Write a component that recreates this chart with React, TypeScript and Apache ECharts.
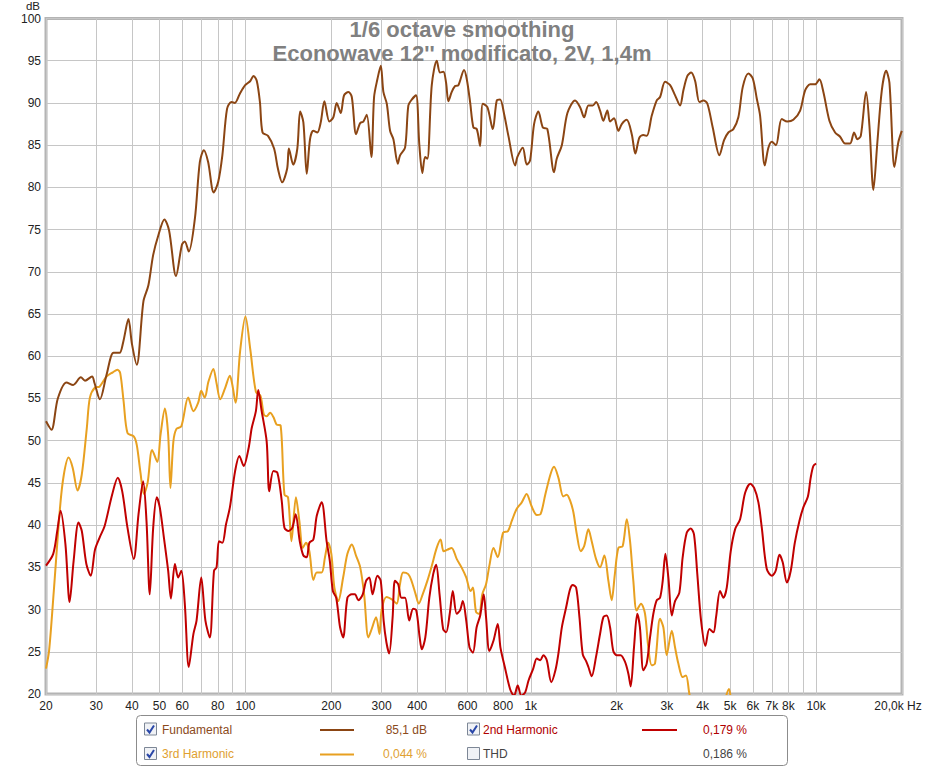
import React, { useEffect, useRef } from "react";
import * as echarts from "echarts";

// [frequency Hz, level dB]
const fundamental: [number, number][] = [
  [20, 52.3], [20.9, 51.3], [22.0, 55.0], [23.6, 56.9], [24.9, 56.6], [26.5, 57.5], [27.4, 57.1],
  [29.0, 57.6], [29.6, 56.8], [30.9, 54.9], [32.6, 57.8], [34.5, 60.4], [36.2, 60.4], [37.3, 61.7],
  [38.9, 64.4], [40.0, 61.5], [41.6, 59.0], [43.9, 66.5], [45.7, 68.4], [47.5, 72.0], [49.5, 74.3],
  [52.0, 76.2], [54.0, 74.9], [57.1, 69.5], [59.9, 73.2], [61.3, 73.6], [63.3, 72.4], [66.5, 76.3],
  [69.2, 83.0], [71.5, 84.4], [74.0, 83.0], [77.4, 79.4], [80.2, 80.6], [83.0, 83.8], [86.2, 89.3],
  [89.3, 90.1], [91.8, 90.0], [95.6, 91.1], [99.8, 92.1], [104, 92.6], [106.7, 93.2], [109.6, 92.6],
  [112.4, 90.1], [114.8, 86.5], [120, 86.1], [126, 84.6], [130, 82.2], [134.5, 80.6], [140, 82.2],
  [142, 84.6], [147, 82.7], [152, 84.6], [155.5, 89.0], [159.6, 87.7], [164, 81.6], [168.4, 85.7],
  [172.9, 86.7], [178.6, 86.5], [183.6, 87.7], [189.1, 90.2], [196.8, 87.8], [203.2, 88.3],
  [208.9, 90.0], [215.8, 88.8], [221.6, 90.9], [229.5, 91.3], [235.9, 90.7], [244.2, 86.3],
  [252.2, 87.6], [259, 87.8], [266.2, 88.6], [276.3, 83.6], [282.4, 90.7], [290, 92.8], [298.1, 94.4],
  [304.4, 91.3], [312.9, 89.9], [321.3, 86.7], [330, 85.7], [341.9, 82.8], [348.3, 83.8],
  [362.6, 84.7], [372.4, 89.7], [382.7, 90.4], [396.2, 90.9], [406.9, 85.0], [416.9, 81.7],
  [426.1, 83.6], [434.1, 83.4], [449.8, 92.1], [468.3, 95.0], [480.9, 93.6], [494, 93.7],
  [504.9, 92.4], [514.3, 90.2], [528.5, 91.3], [542.9, 92.0], [557.5, 92.1], [583.8, 93.9],
  [596.7, 92.8], [612.9, 90.1], [629.4, 87.1], [646.9, 86.9], [664.3, 84.9], [678.9, 89.9],
  [704.6, 89.5], [736, 86.9], [760.1, 90.3], [780.7, 90.4], [806.3, 88.7], [834.8, 86.1],
  [881.2, 82.6], [897.6, 83.6], [937.5, 84.7], [968.4, 82.7], [994.4, 83.2], [1027, 87.5],
  [1063, 89.0], [1102, 87.1], [1143, 86.9], [1207, 81.8], [1233, 83.4], [1285, 85.0], [1344, 88.8],
  [1430, 90.3], [1489, 89.5], [1538, 88.3], [1592, 89.7], [1649, 89.7], [1694, 90.1], [1749, 89.1],
  [1796, 87.9], [1855, 89.1], [1896, 87.8], [1958, 88.2], [2028, 86.7], [2084, 87.5], [2169, 88.0],
  [2259, 86.3], [2325, 84.0], [2402, 85.9], [2480, 86.2], [2550, 86.1], [2655, 88.5], [2764, 90.3],
  [2839, 90.7], [2956, 92.5], [3079, 92.1], [3205, 90.9], [3336, 89.7], [3427, 91.5], [3539, 93.2],
  [3648, 93.6], [3767, 92.6], [3900, 90.1], [4028, 90.3], [4159, 89.9], [4342, 87.1], [4582, 83.8],
  [4758, 85.6], [4926, 86.5], [5129, 86.9], [5340, 88.3], [5534, 91.9], [5789, 93.5], [5999, 92.9],
  [6197, 90.5], [6363, 88.5], [6609, 82.6], [6804, 84.7], [6993, 85.4], [7232, 85.0], [7576, 88.1],
  [7926, 87.8], [8320, 88.0], [8791, 89.1], [9152, 91.5], [9530, 92.2], [9922, 92.2], [10268, 92.8],
  [10604, 91.3], [11132, 87.9], [11657, 86.5], [12137, 86.0], [12635, 85.2], [13156, 85.2],
  [13587, 86.5], [13955, 85.7], [14343, 86.1], [14971, 91.3], [15376, 87.3], [15880, 79.7],
  [16400, 85.4], [16993, 91.5], [17594, 93.8], [18070, 92.4], [18814, 82.4], [19430, 85.4],
  [19970, 86.7],
];

const secondHarmonic: [number, number][] = [
  [20, 35.2], [21.2, 36.6], [21.9, 39.3], [22.5, 41.7], [23.4, 37.7], [24.2, 30.9], [25, 35.8],
  [26, 40.3], [26.7, 39.3], [27.7, 35.4], [28.7, 34.0], [29.7, 37.1], [30.8, 38.5], [32.1, 39.9],
  [34.1, 43.6], [35.7, 45.6], [37, 44.0], [38.6, 39.7], [40.6, 36.0], [42.2, 41.3], [43.8, 45.2],
  [45, 40.5], [46.2, 31.8], [47.5, 39.7], [48.9, 43.3], [50.1, 42.1], [51.8, 38.5], [53.6, 34.6],
  [54.8, 31.3], [56.6, 35.4], [58.1, 33.8], [59.6, 34.6], [61.3, 30.7], [63.3, 23.2], [65.7, 27.1],
  [67.4, 28.7], [70, 33.8], [72.4, 28.7], [75, 26.7], [77.6, 34.6], [79.2, 35.0], [80.8, 38.1],
  [83, 37.9], [85.5, 40.1], [88.2, 42.1], [92, 46.4], [95.2, 48.2], [98.6, 47.0], [102.7, 49.2],
  [105.2, 51.5], [108.8, 53.5], [110.9, 56.0], [114, 53.5], [118.7, 49.9], [121.2, 44.0],
  [125.3, 46.4], [129.4, 46.2], [134, 42.9], [137, 39.7], [141.6, 39.3], [146, 39.7], [150, 41.3],
  [155, 38.1], [159.6, 36.4], [164, 36.2], [167.5, 37.9], [173, 38.3], [177.8, 41.1], [185, 42.7],
  [192.5, 38.1], [197.5, 35.8], [202.5, 32.2], [208, 31.4], [214.6, 27.9], [220, 26.7],
  [227.7, 31.4], [236, 31.8], [242, 31.8], [248.7, 31.1], [257.7, 31.8], [264.7, 33.4],
  [271.7, 33.8], [279, 31.8], [290, 34.0], [298, 33.4], [305, 28.7], [312, 26.1], [319, 24.8],
  [328, 29.1], [334, 33.4], [343, 33.0], [352, 31.4], [362.5, 31.4], [375, 28.7], [387, 30.1],
  [397, 29.9], [408, 26.7], [415, 25.3], [427, 26.7], [441, 31.4], [455, 34.2], [466, 35.3],
  [479, 31.8], [493, 27.7], [505, 27.3], [520, 29.5], [533, 32.2], [550, 29.5], [565, 29.9],
  [578, 31.0], [594, 28.7], [610, 25.5], [627, 24.9], [646, 27.9], [665, 29.3], [684, 31.8],
  [697, 29.1], [716, 25.1], [740, 26.3], [766, 28.3], [783, 25.5], [811, 23.2], [846, 20.6],
  [874, 19.8], [900, 21.0], [927, 19.8], [956, 20.2], [982, 21.6], [1020, 23.0], [1050, 24.2],
  [1080, 24.0], [1107, 24.6], [1138, 24.0], [1180, 21.4], [1220, 22.8], [1250, 24.8], [1285, 27.9],
  [1331, 30.3], [1373, 32.4], [1403, 32.9], [1442, 32.6], [1481, 29.1], [1521, 24.7], [1563, 23.9],
  [1592, 23.2], [1635, 22.1], [1693, 24.4], [1749, 27.1], [1797, 29.1], [1846, 29.3], [1896, 27.9],
  [1946, 25.1], [1999, 24.6], [2064, 24.6], [2140, 23.8], [2198, 22.4], [2240, 20.9], [2300, 25.5],
  [2362, 29.5], [2413, 27.9], [2480, 22.8], [2548, 23.6], [2618, 26.7], [2689, 29.5], [2762, 31.1],
  [2838, 31.4], [2900, 33.4], [2963, 36.6], [3035, 33.8], [3120, 29.3], [3204, 31.0], [3317, 32.0],
  [3407, 36.2], [3520, 39.1], [3636, 39.6], [3733, 38.9], [3834, 34.2], [3952, 28.7], [4092, 25.7],
  [4226, 27.7], [4367, 27.3], [4460, 29.1], [4607, 32.2], [4732, 31.4], [4862, 32.6], [5020, 36.9],
  [5200, 39.5], [5415, 40.7], [5637, 43.8], [5880, 44.9], [6065, 44.4], [6277, 42.7], [6451, 39.7],
  [6716, 34.8], [7000, 34.0], [7216, 34.6], [7440, 36.5], [7637, 35.6], [7900, 33.2], [8150, 34.6],
  [8420, 37.9], [8740, 40.5], [9020, 42.1], [9360, 43.4], [9570, 45.6], [9780, 47.0], [10000, 47.3],
];

const thirdHarmonic: [number, number][] = [
  [20, 23.0], [20.5, 25.1], [21.3, 32.2], [22.4, 42.1], [23.1, 46.0], [24.0, 48.0], [24.8, 46.8],
  [25.8, 44.1], [26.7, 46.0], [27.8, 51.5], [28.5, 55.1], [29.7, 56.3], [30.8, 56.4], [32.6, 57.6],
  [34.3, 58.1], [35.6, 58.4], [36.4, 58.0], [37.4, 54.7], [38.6, 50.9], [40.6, 50.5], [41.6, 49.5],
  [42.8, 46.4], [44.1, 43.7], [45.4, 45.0], [47.1, 48.9], [49.1, 47.5], [50.4, 50.7], [52.2, 53.8],
  [53.6, 50.7], [54.6, 44.4], [55.9, 49.9], [57.3, 51.4], [59.6, 51.7], [63.0, 55.1], [65.7, 53.5],
  [68.3, 54.5], [70, 55.9], [72, 55.1], [74.2, 57.0], [77.2, 58.5], [79.2, 56.8], [81.6, 54.9],
  [84.8, 56.2], [88.2, 57.7], [90, 56.6], [92.3, 54.5], [95.8, 60.6], [100, 64.7], [104, 60.8],
  [108.8, 55.8], [112.9, 55.3], [116, 53.1], [118.7, 52.9], [122, 53.3], [125.3, 52.8],
  [128.7, 51.9], [132.8, 51.8], [137, 43.6], [141, 43.3], [145, 38.1], [150.3, 43.3], [154.5, 40.5],
  [158.8, 37.3], [163, 37.9], [167.5, 36.9], [173, 33.5], [177.8, 34.4], [185, 34.4], [190, 36.2],
  [195, 37.9], [200, 36.6], [205, 32.6], [211.5, 31.0], [220, 33.8], [227.7, 36.6], [236, 37.7],
  [244, 36.4], [252.5, 35.0], [260.6, 31.8], [269.6, 26.7], [277, 27.7], [287, 29.1], [295, 27.1],
  [300, 29.9], [312, 31.5], [326, 31.2], [339, 30.7], [348, 33.0], [357, 34.4], [372, 34.2],
  [382, 33.4], [395, 31.8], [405, 30.7], [418, 31.8], [434, 33.4], [450, 35.2], [468, 37.3],
  [483, 38.3], [495, 36.9], [511, 37.1], [528, 37.3], [550, 36.0], [572, 35.0], [594, 33.8],
  [615, 32.2], [627, 32.6], [643, 29.7], [660, 29.5], [676, 31.8], [697, 33.0], [716, 35.2],
  [740, 37.3], [766, 36.2], [800, 39.1], [832, 39.3], [858, 40.5], [892, 41.9], [930, 42.7],
  [967, 43.7], [1005, 42.3], [1050, 41.2], [1082, 41.3], [1124, 43.6], [1172, 46.0], [1206, 46.9],
  [1250, 45.6], [1300, 43.4], [1337, 43.6], [1374, 42.9], [1411, 41.5], [1450, 38.9], [1497, 36.9],
  [1538, 37.5], [1592, 39.5], [1635, 38.1], [1693, 36.0], [1749, 35.0], [1811, 36.4], [1871, 33.4],
  [1921, 31.1], [1971, 34.2], [2027, 37.3], [2099, 37.5], [2170, 40.7], [2228, 38.1], [2288, 33.4],
  [2350, 29.9], [2434, 30.7], [2514, 29.5], [2582, 25.5], [2653, 23.4], [2725, 23.6], [2838, 28.9],
  [2915, 27.9], [2995, 24.6], [3120, 27.5], [3204, 25.5], [3290, 23.6], [3407, 22.0], [3500, 22.2],
  [3597, 20.0], [3750, 17.5], [4200, 16.0], [4700, 18.5], [4950, 20.6], [5050, 19.0], [5300, 17.0],
];

const gridHz = [
  20, 30, 40, 50, 60, 70, 80, 90, 100, 200, 300, 400, 500, 600, 700, 800, 900,
  1000, 2000, 3000, 4000, 5000, 6000, 7000, 8000, 9000, 10000, 20000,
];
const labelHz = [
  20, 30, 40, 50, 60, 80, 100, 200, 300, 400, 600, 800, 1000, 2000, 3000, 4000, 5000, 6000, 7000,
  8000, 10000, 20000,
];
const labelText = [
  "20", "30", "40", "50", "60", "80", "100", "200", "300", "400", "600", "800", "1k", "2k", "3k",
  "4k", "5k", "6k", "7k", "8k", "10k", "20,0k Hz",
];

const titleLines = ["1/6 octave smoothing", "Econowave 12'' modificato, 2V, 1,4m"];

const legendRows = [
  { name: "Fundamental", value: "85,1 dB", color: "#8b4513", text: "#8b4a1c", checked: true, line: true },
  { name: "2nd Harmonic", value: "0,179 %", color: "#c00000", text: "#b00000", checked: true, line: true },
  { name: "3rd Harmonic", value: "0,044 %", color: "#e8a020", text: "#e0a030", checked: true, line: true },
  { name: "THD", value: "0,186 %", color: "#444444", text: "#444444", checked: false, line: false },
];

const FONT = "'Liberation Sans', Arial, sans-serif";

function toLog(d: [number, number][]) {
  return d.map(([f, v]) => [Math.log10(f), v]);
}

export default function App() {
  const ref = useRef<HTMLDivElement>(null);

  useEffect(() => {
    if (!ref.current) return;
    const chart = echarts.init(ref.current, undefined, { renderer: "svg" });

    const graphics: any[] = [];
    const titleY = [29.5, 53];
    titleLines.forEach((t, i) => {
      graphics.push({
        type: "text",
        x: 462,
        y: titleY[i],
        z: 5,
        style: {
          text: t,
          font: `bold 22px ${FONT}`,
          lineHeight: 22,
          fill: "#808080",
          textAlign: "center",
          textVerticalAlign: "middle",
        },
      });
    });

    // legend box
    graphics.push({
      type: "rect",
      shape: { x: 136.5, y: 715.5, width: 651, height: 50, r: 4 },
      style: { fill: "#ffffff", stroke: "#8c8c8c", lineWidth: 1 },
    });
    const cols = [
      { cb: 144, text: 162, lx1: 320, lx2: 354, val: 427 },
      { cb: 467, text: 483, lx1: 642, lx2: 677, val: 747 },
    ];
    const rowsY = [729.5, 754];
    const placement = [
      [0, 0],
      [1, 0],
      [0, 1],
      [1, 1],
    ];
    legendRows.forEach((row, i) => {
      const c = cols[placement[i][0]];
      const y = rowsY[placement[i][1]];
      graphics.push({
        type: "rect",
        shape: { x: c.cb + 0.5, y: y - 6.5, width: 12, height: 12 },
        style: { fill: "#f0f2f6", stroke: "#7d8796", lineWidth: 1 },
      });
      if (row.checked) {
        graphics.push({
          type: "polyline",
          shape: { points: [[c.cb + 3, y], [c.cb + 5.5, y + 3], [c.cb + 10, y - 4]] },
          style: { stroke: "#2a47a8", lineWidth: 2, fill: null },
        });
      }
      graphics.push({
        type: "text",
        x: c.text,
        y,
        style: {
          text: row.name,
          font: `12px ${FONT}`,
          fill: row.text,
          textAlign: "left",
          textVerticalAlign: "middle",
        },
      });
      if (row.line) {
        graphics.push({
          type: "line",
          shape: { x1: c.lx1, y1: y + 0.5, x2: c.lx2, y2: y + 0.5 },
          style: { stroke: row.color, lineWidth: 2 },
        });
      }
      graphics.push({
        type: "text",
        x: c.val,
        y,
        style: {
          text: row.value,
          font: `12px ${FONT}`,
          fill: row.text,
          textAlign: "right",
          textVerticalAlign: "middle",
        },
      });
    });

    const findLabel = (v: number) => {
      for (let i = 0; i < labelHz.length; i++) {
        if (Math.abs(Math.log10(labelHz[i]) - v) < 1e-6) {
          return i === labelHz.length - 1 ? `{e|${labelText[i]}}` : labelText[i];
        }
      }
      return "";
    };

    const lineSeries = (name: string, data: [number, number][], color: string, z: number) => ({
      name,
      type: "line",
      data: toLog(data),
      showSymbol: false,
      symbol: "none",
      smooth: 0.3,
      z,
      clip: true,
      lineStyle: { color, width: 2 },
      itemStyle: { color },
    });

    chart.setOption({
      animation: false,
      backgroundColor: "#ffffff",
      textStyle: { fontFamily: FONT },
      grid: {
        left: 46,
        top: 16,
        right: 23,
        bottom: 74,
        show: true,
        borderColor: "#b4b4b4",
        borderWidth: 3,
        backgroundColor: "#ffffff",
      },
      xAxis: {
        type: "value",
        min: Math.log10(20),
        max: Math.log10(20000),
        axisLine: { show: false },
        axisTick: { show: false, customValues: gridHz.map((f) => Math.log10(f)) },
        splitLine: { show: true, lineStyle: { color: "#c6c6c6", width: 1 } },
        axisLabel: {
          customValues: labelHz.map((f) => Math.log10(f)),
          formatter: (v: number) => findLabel(v),
          color: "#222222",
          fontSize: 12,
          fontFamily: FONT,
          margin: 6,
          rich: { e: { padding: [0, 8, 0, 0], fontSize: 12, fontFamily: FONT, color: "#222222" } },
        },
      },
      yAxis: {
        type: "value",
        min: 20,
        max: 100,
        interval: 5,
        name: "dB",
        nameLocation: "end",
        nameGap: 7,
        nameTextStyle: {
          color: "#222222",
          fontSize: 11.5,
          lineHeight: 11,
          fontFamily: FONT,
          align: "right",
          verticalAlign: "bottom",
          padding: [0, 6, 0, 0],
        },
        axisLine: { show: false },
        axisTick: { show: false },
        splitLine: { show: true, lineStyle: { color: "#c6c6c6", width: 1 } },
        axisLabel: { color: "#222222", fontSize: 12, lineHeight: 12, fontFamily: FONT, margin: 5 },
      },
      series: [
        lineSeries("3rd Harmonic", thirdHarmonic, "#e8a020", 3),
        lineSeries("2nd Harmonic", secondHarmonic, "#c00000", 4),
        lineSeries("Fundamental", fundamental, "#8b4513", 5),
      ],
      graphic: graphics,
    });

    return () => chart.dispose();
  }, []);

  return (
    <div
      ref={ref}
      style={{ position: "absolute", left: 0, top: 0, width: 925, height: 768, background: "#fff" }}
    />
  );
}
